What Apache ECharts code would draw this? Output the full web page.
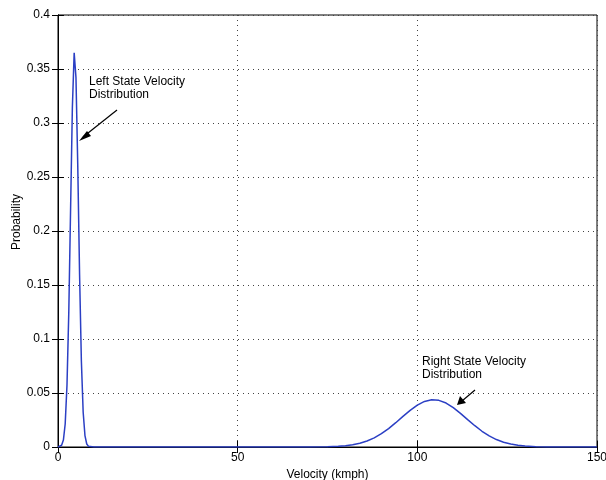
<!DOCTYPE html>
<html>
<head>
<meta charset="utf-8">
<script src="https://cdn.jsdelivr.net/npm/echarts@6/dist/echarts.min.js"></script>
<style>
  html, body { margin: 0; padding: 0; background: #ffffff; }
  #chart { width: 606px; height: 480px; }
</style>
</head>
<body>
<div id="chart"></div>
<script>
// Velocity samples (kmph) and probability for the left-state hump
const leftVelocity = [0, 0.5, 1, 1.5, 2, 2.5, 3, 3.5, 4, 4.5, 5, 5.5, 6, 6.5, 7, 7.5, 8, 8.5, 9, 10];
const leftProbability = [0.00005, 0.0003, 0.0016, 0.0064, 0.0213, 0.0572, 0.1246, 0.2200, 0.3145, 0.3650, 0.3422, 0.2603, 0.1604, 0.0801, 0.0324, 0.0106, 0.0028, 0.0006, 0.0001, 0];

// Velocity samples (kmph) and probability for the right-state hump
const rightVelocity = [20, 60, 70, 75, 78, 80, 82, 84, 86, 88, 90, 92, 94, 96, 98, 100, 102, 104, 106, 108, 110, 112, 114, 116, 118, 120, 122, 124, 126, 128, 130, 133, 136, 140, 150];
const rightProbability = [0, 0, 0.00003, 0.00023, 0.00063, 0.00117, 0.00206, 0.00346, 0.00555, 0.00846, 0.0123, 0.01705, 0.0225, 0.02832, 0.0339, 0.03876, 0.04218, 0.04373, 0.04321, 0.04068, 0.03649, 0.03119, 0.0254, 0.01971, 0.01457, 0.01027, 0.00689, 0.00441, 0.00269, 0.00156, 0.00086, 0.00032, 0.00011, 0.00002, 0];

const xTicks = [0, 50, 100, 150];
const yTicks = [0, 0.05, 0.1, 0.15, 0.2, 0.25, 0.3, 0.35, 0.4];

const points = leftVelocity.map((v, i) => [v, leftProbability[i]])
  .concat(rightVelocity.map((v, i) => [v, rightProbability[i]]));

const FONT = 'Liberation Sans, Arial, Helvetica, sans-serif';
const gridLine = { show: true, lineStyle: { color: '#444', type: [1, 4], width: 1 } };
const inTick = { show: true, inside: true, length: 6, lineStyle: { color: '#000' } };

const chart = echarts.init(document.getElementById('chart'), null, { renderer: 'canvas' });
chart.setOption({
  backgroundColor: '#ffffff',
  animation: false,
  grid: {
    left: 58, right: 9, top: 15, bottom: 33,
    containLabel: false, outerBoundsMode: 'none',
    show: true, borderColor: '#000', borderWidth: 1, backgroundColor: 'transparent'
  },
  xAxis: [{
    type: 'value', min: xTicks[0], max: xTicks[xTicks.length - 1], interval: 50,
    name: 'Velocity (kmph)', nameLocation: 'middle', nameGap: 18,
    nameTextStyle: { color: '#000', fontSize: 12, fontFamily: FONT },
    axisLine: { show: true, lineStyle: { color: '#000' } },
    axisTick: inTick,
    axisLabel: { color: '#000', fontSize: 12, fontFamily: FONT, margin: 5 },
    splitLine: gridLine
  }, {
    type: 'value', position: 'top', min: xTicks[0], max: xTicks[xTicks.length - 1], interval: 50,
    axisLine: { show: true, lineStyle: { color: '#000' } },
    axisTick: inTick, axisLabel: { show: false }, splitLine: { show: false }
  }],
  yAxis: [{
    type: 'value', min: yTicks[0], max: yTicks[yTicks.length - 1], interval: 0.05,
    axisLine: { show: true, lineStyle: { color: '#000' } },
    axisTick: inTick,
    axisLabel: { color: '#000', fontSize: 12, fontFamily: FONT, margin: 8 },
    splitLine: gridLine
  }, {
    type: 'value', position: 'right', min: yTicks[0], max: yTicks[yTicks.length - 1], interval: 0.05,
    axisLine: { show: true, lineStyle: { color: '#000' } },
    axisTick: inTick, axisLabel: { show: false }, splitLine: { show: false }
  }],
  series: [{
    type: 'line',
    data: points,
    showSymbol: false,
    smooth: false,
    lineStyle: { color: '#2b3fc4', width: 1.5 },
    itemStyle: { color: '#2b3fc4' },
    z: 5
  }],
  graphic: [
    { type: 'text', x: 17, y: 222, rotation: Math.PI / 2, style: { text: 'Probability', fill: '#000', font: '12px ' + FONT, align: 'center', verticalAlign: 'middle' } },
    { type: 'text', x: 89, y: 75, style: { text: 'Left State Velocity\nDistribution', fill: '#000', font: '12px ' + FONT, lineHeight: 13 } },
    { type: 'text', x: 422, y: 355, style: { text: 'Right State Velocity\nDistribution', fill: '#000', font: '12px ' + FONT, lineHeight: 13 } },
    { type: 'line', shape: { x1: 117, y1: 110, x2: 83, y2: 137 }, style: { stroke: '#000', lineWidth: 1.2 } },
    { type: 'polygon', shape: { points: [[79, 141], [87, 131], [91, 136]] }, style: { fill: '#000' } },
    { type: 'line', shape: { x1: 475, y1: 390, x2: 462, y2: 401 }, style: { stroke: '#000', lineWidth: 1.2 } },
    { type: 'polygon', shape: { points: [[457, 405], [460, 396], [466, 403]] }, style: { fill: '#000' } }
  ]
});
</script>
</body>
</html>
